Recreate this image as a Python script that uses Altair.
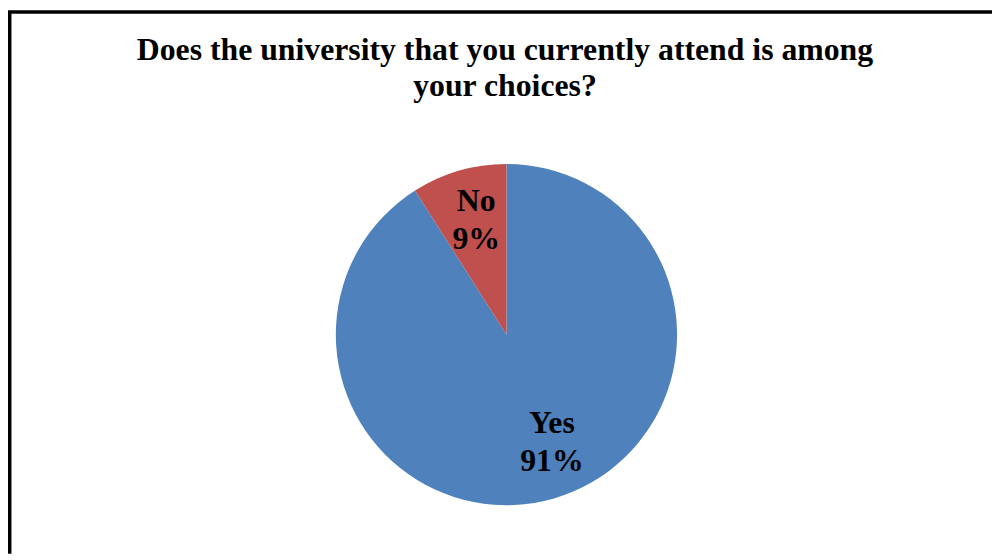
import altair as alt
import pandas as pd

categories = ["Yes", "No"]
values = [91, 9]
order = [0, 1]
colors = ["#4F81BD", "#C0504D"]
title_lines = ["Does the university that you currently attend is among", "your choices?"]

df = pd.DataFrame({"category": categories, "value": values, "order": order})

base = alt.Chart(df).transform_calculate(
    label="datum.category + '\\n' + datum.value + '%'"
)

theta = alt.Theta("value:Q", stack=True)
CX, CY = 502.5, 327

pie = base.mark_arc(outerRadius=172).encode(
    theta=theta,
    order=alt.Order("order:Q"),
    color=alt.Color("category:N", scale=alt.Scale(domain=categories, range=colors), legend=None),
    x=alt.value(CX),
    y=alt.value(CY),
)

def label_layer(cat, dx, dy, radius):
    return base.mark_text(
        radius=radius, dx=dx, dy=dy, font="Liberation Serif", fontSize=32, fontWeight="bold",
        lineBreak="\n", lineHeight=38, align="center", baseline="middle", color="black",
    ).encode(
        theta=theta,
        order=alt.Order("order:Q"),
        text="label:N",
        x=alt.value(CX),
        y=alt.value(CY),
        opacity=alt.condition(f"datum.category == '{cat}'", alt.value(1), alt.value(0)),
    )

frame = alt.Chart(pd.DataFrame({"f": [0]})).mark_rect(
    fill=None, stroke="black", strokeWidth=4, clip=True
).encode(
    x=alt.value(1.5), y=alt.value(1.5), x2=alt.value(1400), y2=alt.value(1400)
)

chart = alt.layer(frame, pie, label_layer("Yes", 14, -20, 114), label_layer("No", 3, -19, 120)).properties(
    width=992,
    height=548,
    title=alt.TitleParams(
        text=title_lines, font="Liberation Serif", fontSize=32, fontWeight="bold",
        anchor="middle", color="black", lineHeight=37, baseline="top", dy=98, dx=5,
    ),
    autosize=alt.AutoSizeParams(type="none"),
    padding=0,
).configure_view(stroke=None)

chart.save("out.html", embed_options={"renderer": "svg", "actions": False})
